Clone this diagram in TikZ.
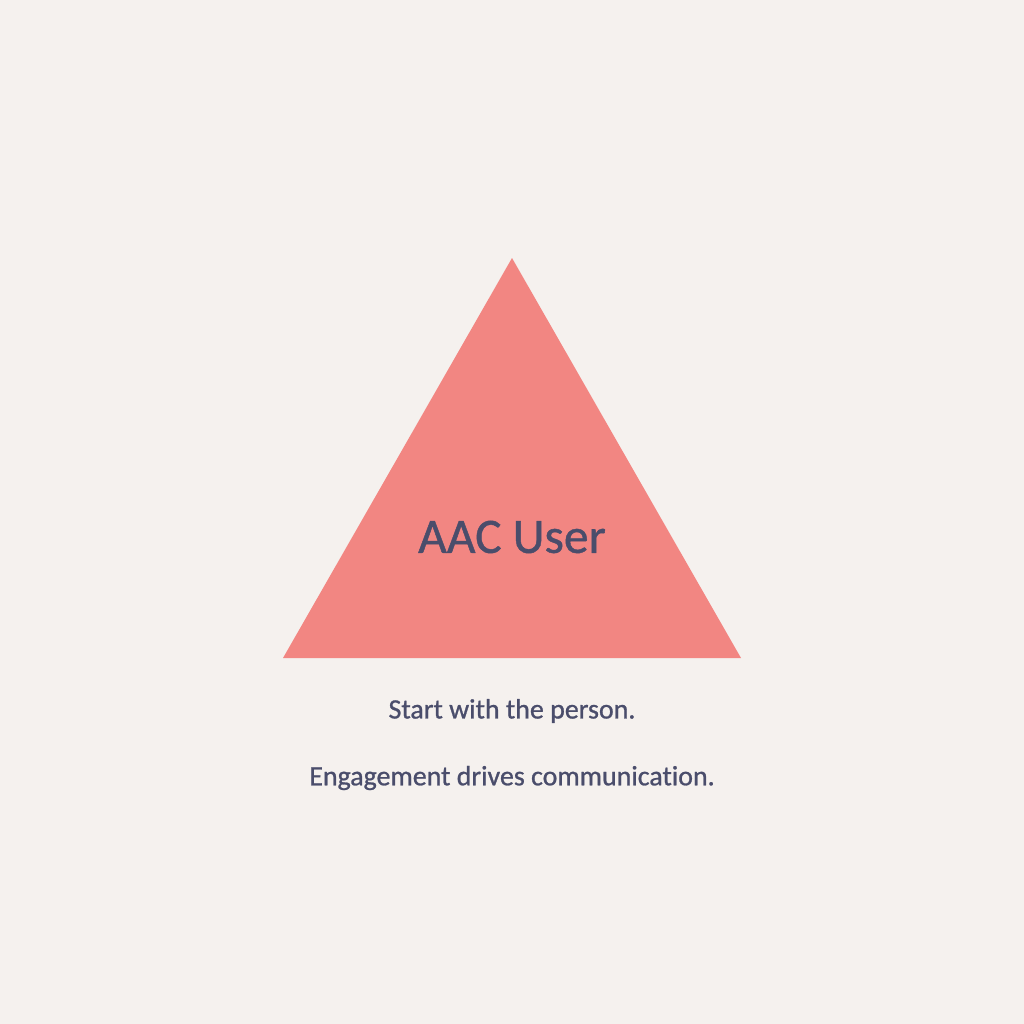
\documentclass[tikz,border=0pt]{standalone}
\usepackage{fontspec}
\setmainfont[Ligatures=NoCommon]{Carlito}
\newfontfamily\medfont[Ligatures=NoCommon,FakeBold=0.9]{Carlito}
\usepackage{tikz}
\usetikzlibrary{positioning,calc}
\definecolor{paper}{HTML}{F5F1EE}
\definecolor{salmon}{HTML}{F28682}
\definecolor{slate}{HTML}{4A4D6B}
\newcommand*{\bigtxt}[1]{\medfont\fontsize{28.2}{33}\selectfont #1}
\newcommand*{\smalltxt}[1]{\medfont\fontsize{15.9}{19}\selectfont #1}

\begin{document}
\begin{tikzpicture}[x=0.02cm,y=-0.02cm]
% Background fixes the size
\fill[paper] (0,0) rectangle (1024,1024);
\useasboundingbox (0,0) rectangle (1024,1024);
% Points of the triangle
\coordinate (top) at (512,258);
\coordinate (left) at (283,658);
\coordinate (right) at (741,658);
% Draw the triangle
\fill[salmon] (top) -- (left) -- (right) -- cycle;
% Label inside
\node[slate] (user) at (512,537) {\bigtxt{AAC User}};
% Captions below
\node[slate] (start) at (512,711) {\smalltxt{Start with the person.}};
\node[slate] (engage) at (512,778) {\smalltxt{Engagement drives communication.}};
\end{tikzpicture}
\end{document}
